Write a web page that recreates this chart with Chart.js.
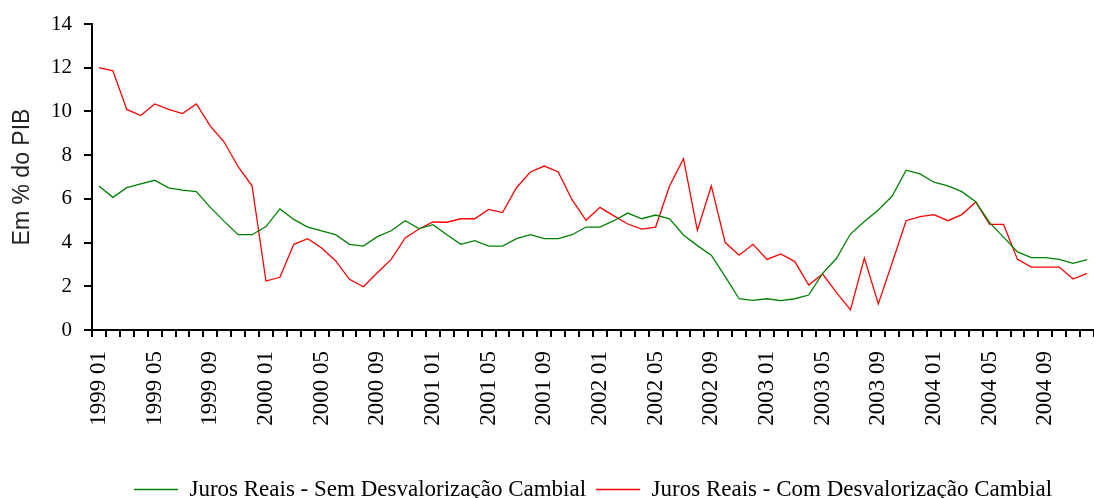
<!DOCTYPE html>
<html>
<head>
<meta charset="utf-8">
<script src="https://cdn.jsdelivr.net/npm/chart.js@4.4.1/dist/chart.umd.min.js"></script>
<style>
  html, body { margin: 0; padding: 0; background: #fff; overflow: hidden; }
  #wrap { width: 1094px; height: 498px; }
</style>
</head>
<body>
<div id="wrap"><canvas id="chart"></canvas></div>
<script>
const years = ['1999', '2000', '2001', '2002', '2003', '2004'];
const months = ['01', '02', '03', '04', '05', '06', '07', '08', '09', '10', '11', '12'];

const semDesval = [
    6.59, 6.07, 6.51, 6.68, 6.85, 6.50, 6.40, 6.33, 5.61, 4.97, 4.36, 4.36,
    4.73, 5.54, 5.06, 4.71, 4.54, 4.36, 3.92, 3.84, 4.27, 4.54, 5.00, 4.64,
    4.82, 4.36, 3.92, 4.09, 3.84, 3.84, 4.18, 4.36, 4.18, 4.18, 4.36, 4.71,
    4.71, 5.00, 5.35, 5.09, 5.26, 5.09, 4.35, 3.86, 3.42, 2.44, 1.43, 1.36,
    1.43, 1.34, 1.43, 1.60, 2.59, 3.28, 4.39, 4.96, 5.49, 6.13, 7.31, 7.14,
    6.76, 6.59, 6.33, 5.87, 4.91, 4.25, 3.57, 3.31, 3.31, 3.23, 3.05, 3.22
];

const comDesval = [
    12.00, 11.86, 10.09, 9.81, 10.34, 10.09, 9.90, 10.34, 9.33, 8.60, 7.47, 6.60,
    2.24, 2.41, 3.92, 4.18, 3.75, 3.17, 2.32, 1.98, 2.62, 3.23, 4.21, 4.62,
    4.94, 4.93, 5.09, 5.09, 5.52, 5.37, 6.51, 7.23, 7.50, 7.23, 5.95, 5.02,
    5.61, 5.22, 4.85, 4.62, 4.71, 6.59, 7.84, 4.56, 6.59, 4.00, 3.42, 3.92,
    3.23, 3.48, 3.13, 2.06, 2.56, 1.71, 0.92, 3.29, 1.19, 3.08, 5.00, 5.19,
    5.28, 5.00, 5.28, 5.86, 4.83, 4.83, 3.23, 2.88, 2.88, 2.88, 2.33, 2.59
];

const yTicks = [0, 2, 4, 6, 8, 10, 12, 14];

let labels = [];
for (let y of years) {
    for (let m of months) {
        labels.push(y + ' ' + m);
    }
}

const serif = '"Liberation Serif", "Times New Roman", serif';

new Chart(document.getElementById('chart'), {
    type: 'line',
    data: {
        labels: labels,
        datasets: [
            {
                label: 'Juros Reais - Sem Desvalorização Cambial',
                data: semDesval,
                borderColor: '#008000',
                backgroundColor: '#008000',
                borderWidth: 1.3,
                pointRadius: 0,
                tension: 0
            },
            {
                label: 'Juros Reais - Com Desvalorização Cambial',
                data: comDesval,
                borderColor: '#ff0000',
                backgroundColor: '#ff0000',
                borderWidth: 1.3,
                pointRadius: 0,
                tension: 0
            }
        ]
    },
    options: {
        responsive: true,
        maintainAspectRatio: false,
        animation: false,
        layout: { padding: { top: 24, right: 0, bottom: 0, left: 0 } },
        plugins: {
            tooltip: { enabled: false },
            legend: {
                position: 'bottom',
                fullSize: false,
                maxHeight: 30,
                labels: {
                    color: '#000',
                    font: { family: serif, size: 23 },
                    usePointStyle: true,
                    pointStyle: 'line',
                    pointStyleWidth: 44,
                    padding: 10
                }
            }
        },
        scales: {
            x: {
                offset: true,
                afterFit: (s) => {
                    s.height = 138;
                    s.paddingLeft = 0;
                    s.paddingRight = 0;
                },
                border: { color: '#000', width: 2 },
                grid: {
                    offset: true,
                    drawOnChartArea: false,
                    drawTicks: true,
                    tickLength: 7,
                    color: '#000',
                    lineWidth: 2
                },
                ticks: {
                    autoSkip: false,
                    minRotation: 90,
                    maxRotation: 90,
                    padding: 14,
                    color: '#000',
                    font: { family: serif, size: 23 },
                    callback: (val, i) => i % 4 === 0 ? labels[i] : ''
                }
            },
            y: {
                min: 0,
                max: 14,
                afterFit: (s) => {
                    s.width = 92;
                    s.paddingTop = 0;
                    s.paddingBottom = 0;
                },
                afterBuildTicks: (s) => { s.ticks = yTicks.map(v => ({ value: v })); },
                border: { color: '#000', width: 2 },
                grid: {
                    drawOnChartArea: false,
                    tickLength: 8,
                    color: '#000',
                    lineWidth: 2
                },
                ticks: {
                    padding: 12,
                    color: '#000',
                    font: { family: serif, size: 21 }
                },
                title: {
                    display: true,
                    text: 'Em % do PIB',
                    color: '#222',
                    padding: { top: 9, bottom: 4 },
                    font: { family: '"Liberation Sans", Arial, sans-serif', size: 23 }
                }
            }
        }
    }
});
</script>
</body>
</html>
